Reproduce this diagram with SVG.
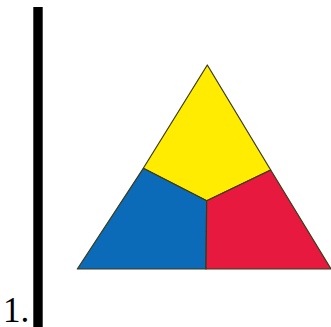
<svg xmlns="http://www.w3.org/2000/svg" width="331" height="327" viewBox="0 0 331 327">
<style>
.seg{stroke:#3a3a1a;stroke-width:1.2;stroke-linejoin:round}
</style>
<rect width="331" height="327" fill="#fff"/>
<g id="yellow"><polygon class="seg" fill="#FFEC00" points="207.3,65 270.7,170 206.7,200.7 143.3,168.3"/></g>
<g id="blue"><polygon class="seg" fill="#0B6BB8" points="143.3,168.3 206.7,200.7 206,269 77.3,269"/></g>
<g id="red"><polygon class="seg" fill="#E8193F" points="270.7,170 206.7,200.7 206,269 331,269"/></g>
<g id="bar"><rect x="33.3" y="7" width="9.4" height="320" fill="#000"/></g>
<text x="3" y="322" font-family="Liberation Serif, serif" font-size="35" fill="#000">1.</text>
</svg>
